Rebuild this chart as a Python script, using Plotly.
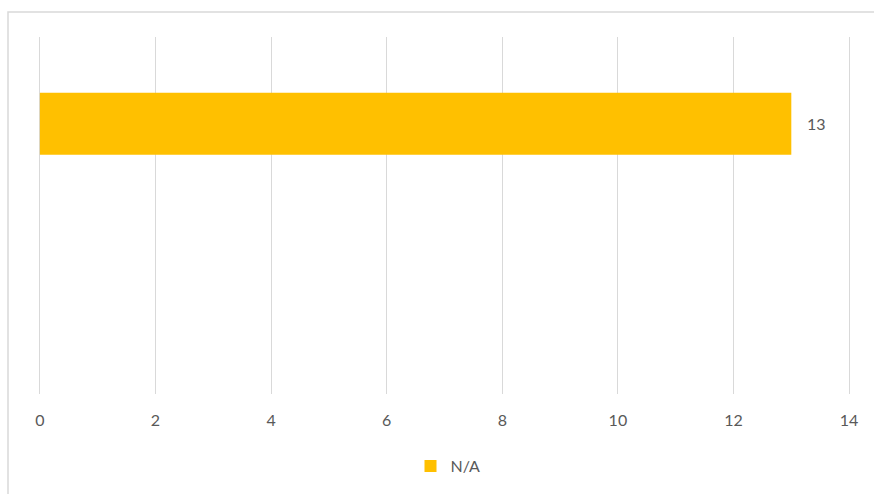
import plotly.graph_objects as go

# Chart data
categories = ["N/A"]
series_name = "N/A"
values = [13]
x_ticks = [0, 2, 4, 6, 8, 10, 12, 14]

W, H = 874, 494
L, R, T, B = 37, 22, 37, 99
pw, ph = W - L - R, H - T - B
X_RANGE = [-0.05, 14.05]

font_family = "Lato, Carlito, 'Liberation Sans', sans-serif"
text_color = "#595959"
grid_color = "#d9d9d9"

fig = go.Figure()
fig.add_trace(go.Bar(
    y=categories,
    x=values,
    orientation="h",
    name=series_name,
    marker=dict(color="#FFC000", line=dict(width=0)),
    width=0.6,
    showlegend=True,
))

# Value labels just past the bar ends
for c, v in zip(categories, values):
    fig.add_annotation(x=v, y=c, text=str(v), showarrow=False,
                       xanchor="left", xshift=14,
                       font=dict(size=16, color=text_color, family=font_family))

# Chart frame (continues past the right and bottom edges)
def px_to_paper_x(px):
    return (px - L) / pw

def px_to_paper_y(py):
    return (H - B - py) / ph

fig.add_shape(type="rect", xref="paper", yref="paper",
              x0=px_to_paper_x(8), x1=px_to_paper_x(W + 20),
              y0=px_to_paper_y(H + 20), y1=px_to_paper_y(12),
              line=dict(color=grid_color, width=1.5), layer="below")

fig.update_layout(
    width=W, height=H,
    margin=dict(l=L, r=R, t=T, b=B),
    paper_bgcolor="white", plot_bgcolor="white",
    font=dict(family=font_family, color=text_color, size=16),
    bargap=0.4,
    xaxis=dict(
        range=X_RANGE, tickvals=x_ticks, ticktext=[str(t) for t in x_ticks],
        showgrid=True, gridcolor=grid_color, gridwidth=1.4,
        zeroline=False, showline=False, ticks="",
        ticklabelstandoff=15,
        tickfont=dict(size=16, color=text_color),
    ),
    yaxis=dict(
        range=[-2.623, 0.842], showticklabels=False, showgrid=False,
        zeroline=False, showline=False, ticks="",
    ),
    legend=dict(orientation="h", x=px_to_paper_x(448), xanchor="center",
                y=px_to_paper_y(466), yanchor="middle",
                font=dict(size=16, color=text_color),
                itemwidth=30),
)

fig.write_html("out.html")
